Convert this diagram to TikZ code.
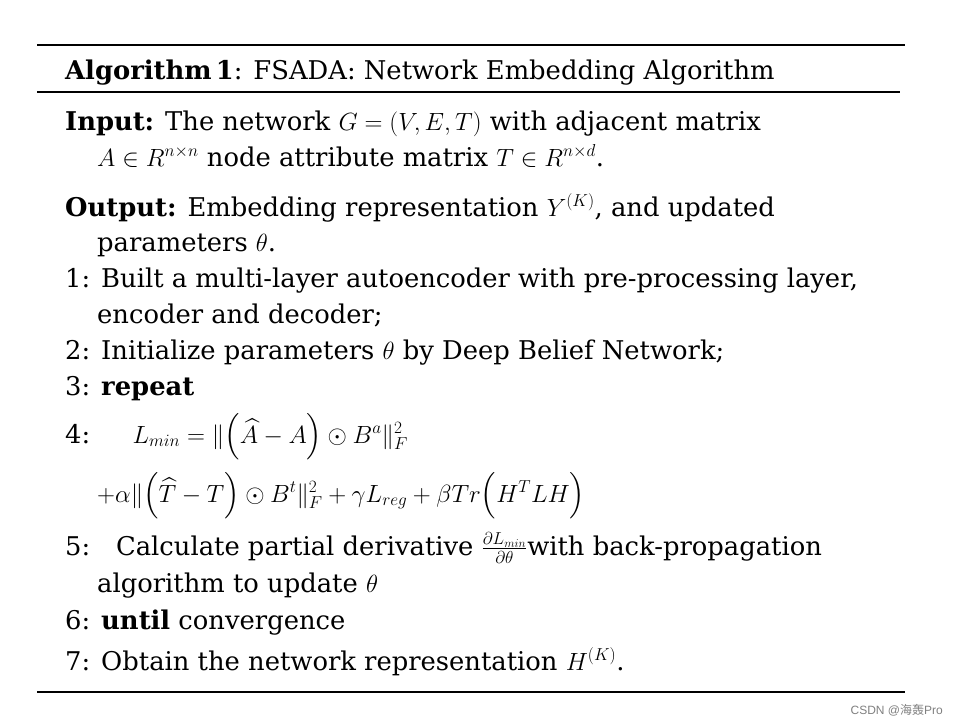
\documentclass[tikz,border=0pt]{standalone}
\usepackage{amsmath,amssymb}
\usepackage{fontspec}
\setmainfont{DejaVu Serif}
\newfontfamily\cjk{Noto Sans CJK SC}
\newfontfamily\wsans{Liberation Sans}
\begin{document}
\begin{tikzpicture}[x=1pt,y=-1pt,
  t/.style={anchor=base west,inner sep=0pt,font=\fontsize{25.8}{30}\selectfont},
  rule/.style={line width=1.3pt}]
\useasboundingbox (0,0) rectangle (958,726);
\fill[white] (0,0) rectangle (958,726);
\coordinate (l1a) at (37,45); \coordinate (l1b) at (905,45);
\coordinate (l2a) at (37,92); \coordinate (l2b) at (900,92);
\coordinate (l3a) at (37,692); \coordinate (l3b) at (905,692);
\draw[rule] (l1a) -- (l1b);
\draw[rule] (l2a) -- (l2b);
\draw[rule] (l3a) -- (l3b);
\node[t] (h) at (65,79) {\textbf{Algorithm\,1}: FSADA: Network Embedding Algorithm};
\node[t] (in) at (65,130) {\textbf{Input:} The network $G=(V,E,T)$ with adjacent matrix};
\node[t] (in2) at (97,166) {$A\in R^{n\times n}$ node attribute matrix $T\in R^{n\times d}$.};
\node[t] (out) at (65,216) {\textbf{Output:} Embedding representation $Y^{(K)}$, and updated};
\node[t] (out2) at (97,251) {parameters $\theta$.};
\node[t] (s1) at (65,287) {1: Built a multi-layer autoencoder with pre-processing layer,};
\node[t] (s1b) at (97,323) {encoder and decoder;};
\node[t] (s2) at (65,359) {2: Initialize parameters $\theta$ by Deep Belief Network;};
\node[t] (s3) at (65,395) {3: \textbf{repeat}};
\node[t] (s4) at (65,443) {4:\quad\ \ $L_{min}=\|\Big(\widehat{A}-A\Big)\odot B^{a}\|_F^2$};
\node[t] (s4b) at (97,502) {$+\alpha\|\Big(\widehat{T}-T\Big)\odot B^{t}\|_F^2+\gamma L_{reg}+\beta Tr\Big(H^TLH\Big)$};
\node[t] (s5) at (65,555) {5:\quad Calculate partial derivative $\frac{\partial L_{min}}{\partial\theta}$with back-propagation};
\node[t] (s5b) at (97,592) {algorithm to update $\theta$};
\node[t] (s6) at (65,629) {6: \textbf{until} convergence};
\node[t] (s7) at (65,670) {7: Obtain the network representation $H^{(K)}$.};
\node[anchor=base east,inner sep=0pt,text=gray,font=\fontsize{12}{14}\selectfont] (wm) at (943,714) {{\wsans CSDN @}{\cjk 海轰}{\wsans Pro}};
\end{tikzpicture}
\end{document}
